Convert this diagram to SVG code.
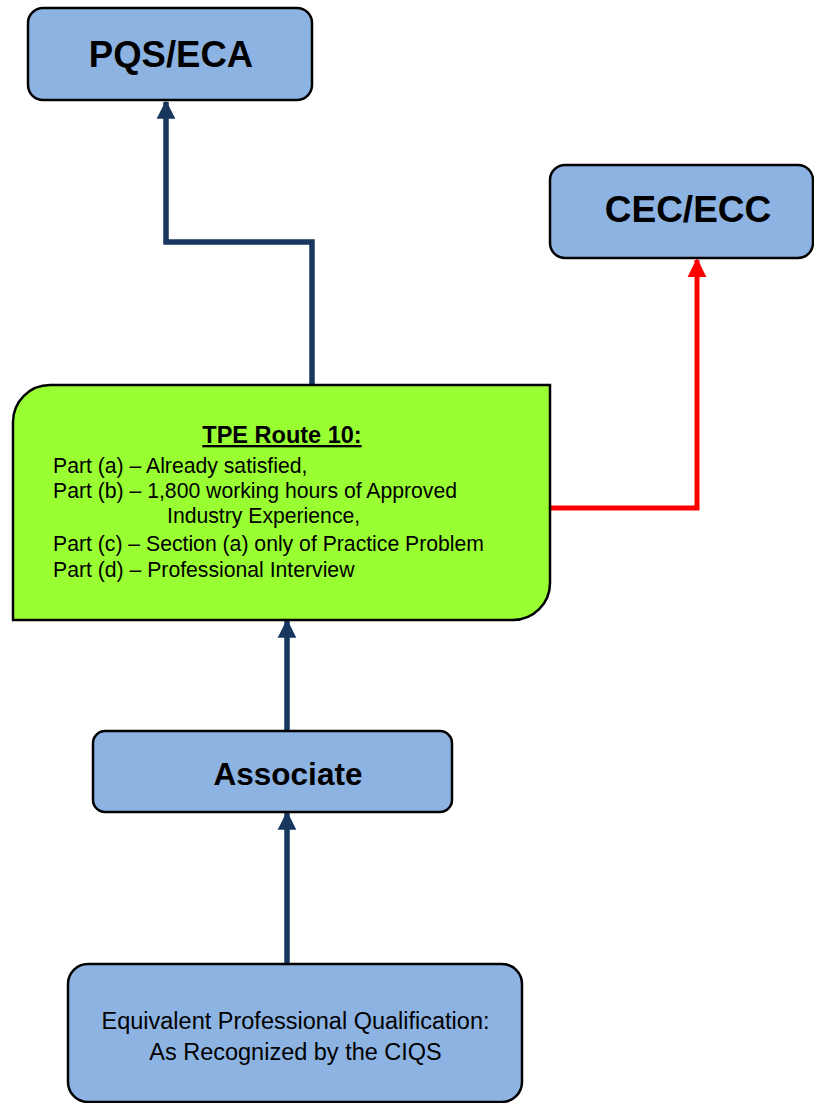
<svg xmlns="http://www.w3.org/2000/svg" width="814" height="1103" viewBox="0 0 814 1103">
<defs>
<style>
.box{fill:#8DB3E2;stroke:#000;stroke-width:2.5}
.green{fill:#99FF33;stroke:#000;stroke-width:2.5}
.t{font-family:"Liberation Sans",Arial,sans-serif;fill:#000}
.b{font-weight:bold}
.nav{fill:none;stroke:#17375E;stroke-width:5.5}
.red{fill:none;stroke:#FF0000;stroke-width:5}
</style>
<marker id="an" viewBox="0 0 10 10" refX="9" refY="5" markerWidth="3.4" markerHeight="3.6" orient="auto" markerUnits="strokeWidth">
<path d="M0,0 L10,5 L0,10 Z" fill="#17375E"/>
</marker>
<marker id="ar" viewBox="0 0 10 10" refX="9" refY="5" markerWidth="3.8" markerHeight="4" orient="auto" markerUnits="strokeWidth">
<path d="M0,0 L10,5 L0,10 Z" fill="#FF0000"/>
</marker>
</defs>
<g id="connectors">
<polyline class="nav" points="312,385 312,242 166,242 166,102" marker-end="url(#an)"/>
<polyline class="red" points="548,508 697,508 697,260" marker-end="url(#ar)"/>
<line class="nav" x1="287" y1="731" x2="287" y2="621" marker-end="url(#an)"/>
<line class="nav" x1="287" y1="964" x2="287" y2="813" marker-end="url(#an)"/>
</g>
<g id="pqs">
<rect class="box" x="28" y="8" width="284" height="92" rx="15"/>
<text class="t b" x="171" y="67" font-size="36.5" text-anchor="middle">PQS/ECA</text>
</g>
<g id="cec">
<rect class="box" x="550" y="165" width="263" height="93" rx="15"/>
<text class="t b" x="688" y="222" font-size="37" text-anchor="middle">CEC/ECC</text>
</g>
<g id="tpe">
<path class="green" d="M50,385 L550,385 L550,583 A37,37 0 0 1 513,620 L13,620 L13,422 A37,37 0 0 1 50,385 Z"/>
<text class="t b" x="282" y="443" font-size="23.5" text-anchor="middle" text-decoration="underline">TPE Route 10:</text>
<text class="t" x="53" y="473" font-size="21.2">Part (a) – Already satisfied,</text>
<text class="t" x="53" y="498" font-size="21.2">Part (b) – 1,800 working hours of Approved</text>
<text class="t" x="167" y="523" font-size="21.2">Industry Experience,</text>
<text class="t" x="53" y="551" font-size="21.2">Part (c) – Section (a) only of Practice Problem</text>
<text class="t" x="53" y="577" font-size="21.2">Part (d) – Professional Interview</text>
</g>
<g id="associate">
<rect class="box" x="93" y="731" width="359" height="81" rx="12"/>
<text class="t b" x="288" y="785" font-size="31.5" text-anchor="middle">Associate</text>
</g>
<g id="equivalent">
<rect class="box" x="68" y="964" width="454" height="138" rx="20"/>
<text class="t" x="295.5" y="1029" font-size="23.5" text-anchor="middle">Equivalent Professional Qualification:</text>
<text class="t" x="295.5" y="1060" font-size="23.5" text-anchor="middle">As Recognized by the CIQS</text>
</g>
</svg>
